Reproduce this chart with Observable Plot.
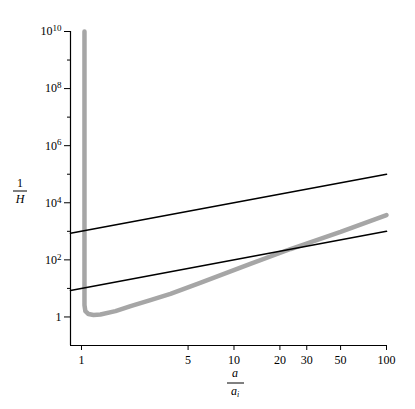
<!DOCTYPE html>
<html><head><meta charset="utf-8">
<script src="https://cdn.jsdelivr.net/npm/d3@7"></script>
<script src="https://cdn.jsdelivr.net/npm/@observablehq/plot@0.6"></script>
<style>
body{margin:0;background:#fff}
svg, svg text {font-family: "Liberation Serif", "Times New Roman", serif !important; fill: black}
svg {color: black}
</style>
</head><body><div id="chart"></div>
<script>
// straight reference lines (a/a_i vs 1/H)
const lineX = [0.847, 100];
const upperY = [850, 100000];
const lowerY = [8.5, 1000];
// gray curve
const curveX = [1.046, 1.046, 1.06, 1.11, 1.2, 1.33, 1.67, 2.1, 2.83, 3.83, 6, 12.8, 23.5, 50, 100];
const curveY = [1e10, 2.6, 1.6, 1.27, 1.17, 1.22, 1.6, 2.4, 3.9, 6.4, 15.5, 72, 240, 950, 3700];
const xTicks = [1, 5, 10, 20, 30, 50, 100];
const yMajor = [1, 1e2, 1e4, 1e6, 1e8, 1e10];
const yMinor = [10, 1e3, 1e5, 1e7, 1e9];
const xDomain = [0.847, 100];
const yDomain = [0.1, 1e10];

const upper = lineX.map((x, i) => ({x, y: upperY[i]}));
const lower = lineX.map((x, i) => ({x, y: lowerY[i]}));
const curve = curveX.map((x, i) => ({x, y: curveY[i]}));

const chart = Plot.plot({
  width: 415, height: 409,
  marginLeft: 70, marginRight: 29, marginTop: 31, marginBottom: 64,
  style: {fontSize: "12px", color: "black", background: "white"},
  x: {type: "log", domain: xDomain},
  y: {type: "log", domain: yDomain},
  marks: [
    Plot.axisX({ticks: xTicks, tickSize: 5, tickPadding: 5, tickFormat: d => String(d), label: null}),
    Plot.axisY({ticks: yMajor, tickSize: 6, tickPadding: 3, tickFormat: d => d === 1 ? "1" : "10^" + Math.round(Math.log10(d)), label: null}),
    Plot.axisY({ticks: yMinor, tickSize: 3, tickFormat: () => "", label: null}),
    Plot.ruleY([yDomain[0]], {x1: xDomain[0], x2: xDomain[1], stroke: "black", strokeWidth: 1.2}),
    Plot.ruleX([xDomain[0]], {y1: yDomain[0], y2: yDomain[1], stroke: "black", strokeWidth: 1.2}),
    Plot.line(curve, {x: "x", y: "y", stroke: "#a6a6a6", strokeWidth: 4.5, curve: "linear"}),
    Plot.line(upper, {x: "x", y: "y", stroke: "black", strokeWidth: 1.6}),
    Plot.line(lower, {x: "x", y: "y", stroke: "black", strokeWidth: 1.6})
  ]
});
document.getElementById("chart").appendChild(chart);

const ns = "http://www.w3.org/2000/svg";
chart.querySelectorAll('[aria-label="y-axis tick label"] text').forEach(t => {
  const s = t.textContent;
  if (s.includes("^")) {
    const [b, e] = s.split("^");
    t.textContent = b;
    const ts = document.createElementNS(ns, "tspan");
    ts.setAttribute("dy", "-0.45em");
    ts.setAttribute("font-size", "9");
    ts.textContent = e;
    t.appendChild(ts);
  }
});

const svg = d3.select(chart);
const g = svg.append("g").attr("font-size", 12).attr("fill", "black");
// y title 1/H
g.append("text").attr("x", 20).attr("y", 187).attr("text-anchor", "middle").text("1");
g.append("line").attr("x1", 13).attr("x2", 27).attr("y1", 191).attr("y2", 191).attr("stroke", "black").attr("stroke-width", 1);
g.append("text").attr("x", 20).attr("y", 203).attr("text-anchor", "middle").attr("font-style", "italic").text("H");
// x title a/a_i
g.append("text").attr("x", 235).attr("y", 377).attr("text-anchor", "middle").attr("font-style", "italic").text("a");
g.append("line").attr("x1", 227).attr("x2", 244).attr("y1", 383).attr("y2", 383).attr("stroke", "black").attr("stroke-width", 1);
const sub = g.append("text").attr("x", 235).attr("y", 395).attr("text-anchor", "middle").attr("font-style", "italic");
sub.append("tspan").text("a");
sub.append("tspan").attr("font-size", 8).attr("dy", 2).text("i");
</script>
</body></html>
